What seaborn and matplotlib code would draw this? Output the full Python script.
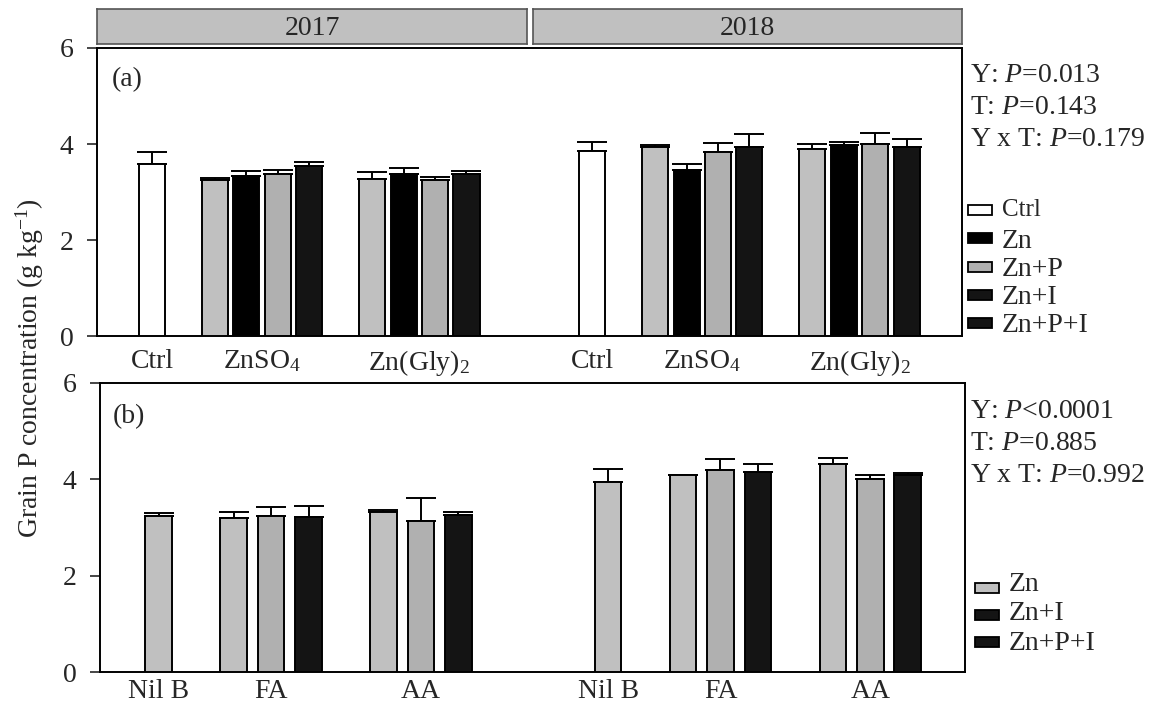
#!/usr/bin/env python3
"""
Grain P concentration bar chart, two panels (2017 / 2018)
"""
import numpy as np
import pandas as pd
import matplotlib
matplotlib.use('Agg')
import matplotlib.pyplot as plt
from matplotlib.patches import Rectangle
import seaborn as sns

# ---- data -------------------------------------------------------------
years = ['2017', '2018']

# panel (a)
a_groups = ['ZnSO4', 'Zn(Gly)2']
a_tick_labels = ['Ctrl', 'ZnSO$_\\mathrm{4}$', 'Zn(Gly)$_\\mathrm{2}$']
a_treat = ['Zn', 'Zn+P', 'Zn+I', 'Zn+P+I']
a_ctrl_mean = [3.59, 3.86]
a_ctrl_se = [0.25, 0.18]
# rows: group, columns: treatment
a_mean_2017 = [[3.24, 3.34, 3.37, 3.54], [3.27, 3.38, 3.26, 3.38]]
a_se_2017 = [[0.06, 0.09, 0.08, 0.09], [0.15, 0.12, 0.06, 0.06]]
a_mean_2018 = [[3.94, 3.46, 3.83, 3.93], [3.89, 3.98, 4.00, 3.93]]
a_se_2018 = [[0.04, 0.13, 0.20, 0.28], [0.10, 0.07, 0.23, 0.18]]
a_stats = ['Y: $\\mathit{P}$=0.013', 'T: $\\mathit{P}$=0.143', 'Y x T: $\\mathit{P}$=0.179']
a_legend = ['Ctrl', 'Zn', 'Zn+P', 'Zn+I', 'Zn+P+I']

# panel (b)
b_tick_labels = ['Nil B', 'FA', 'AA']
b_treat = ['Zn', 'Zn+I', 'Zn+P+I']
b_nil_mean = [3.245, 3.95]
b_nil_se = [0.06, 0.27]
b_mean_2017 = [[3.19, 3.245, 3.22], [3.33, 3.14, 3.25]]
b_se_2017 = [[0.13, 0.19, 0.23], [0.03, 0.47, 0.07]]
b_mean_2018 = [[4.08, 4.20, 4.16], [4.31, 4.01, 4.10]]
b_se_2018 = [[0.02, 0.22, 0.16], [0.14, 0.07, 0.03]]
b_stats = ['Y: $\\mathit{P}$<0.0001', 'T: $\\mathit{P}$=0.885', 'Y x T: $\\mathit{P}$=0.992']
b_legend = ['Zn', 'Zn+I', 'Zn+P+I']

# ---- style ------------------------------------------------------------
sns.set_theme(style='ticks')
plt.rcParams['font.family'] = ['Liberation Serif', 'DejaVu Serif']
plt.rcParams['mathtext.fontset'] = 'custom'
plt.rcParams['mathtext.rm'] = 'Liberation Serif'
plt.rcParams['mathtext.it'] = 'Liberation Serif:italic'

LIGHT = '#c0c0c0'
MID = '#b0b0b0'
BLACK = '#000000'
DARK = '#141414'
FS = 20


def build_a():
    rows = []
    for yi, (means, ses) in enumerate([(a_mean_2017, a_se_2017), (a_mean_2018, a_se_2018)]):
        off = 14 * yi
        rows.append(dict(pos=off, mean=a_ctrl_mean[yi], se=a_ctrl_se[yi], bar='Ctrl'))
        for gi in range(len(a_groups)):
            for ti, t in enumerate(a_treat):
                rows.append(dict(pos=off + 2 + 5 * gi + ti, mean=means[gi][ti],
                                 se=ses[gi][ti], bar=t))
    return pd.DataFrame(rows)


def build_b():
    rows = []
    for yi, (means, ses) in enumerate([(b_mean_2017, b_se_2017), (b_mean_2018, b_se_2018)]):
        off = 12 * yi
        rows.append(dict(pos=off, mean=b_nil_mean[yi], se=b_nil_se[yi], bar='Nil'))
        for gi in range(2):
            for ti, t in enumerate(b_treat):
                rows.append(dict(pos=off + 2 + 4 * gi + ti, mean=means[gi][ti],
                                 se=ses[gi][ti], bar=t))
    return pd.DataFrame(rows)


def draw_panel(ax, df, palette, width, xlim, ticks, labels, xpad):
    sns.barplot(data=df, x='pos', y='mean', hue='bar', palette=palette,
                native_scale=True, width=width, errorbar=None, legend=False,
                edgecolor='black', linewidth=1.4, ax=ax, zorder=3)
    ax.errorbar(df['pos'], df['mean'], yerr=[np.zeros(len(df)), df['se']],
                fmt='none', ecolor='black', elinewidth=1.4, capsize=10.5,
                capthick=1.4, zorder=2)
    ax.set_xlim(*xlim)
    ax.set_ylim(0, 6)
    ax.set_yticks([0, 2, 4, 6])
    ax.set_xticks(ticks)
    ax.set_xticklabels(labels)
    ax.set_xlabel('')
    ax.set_ylabel('')
    ax.tick_params(axis='x', length=0, pad=xpad, labelsize=FS)
    ax.tick_params(axis='y', length=7, width=1.2, pad=10, labelsize=FS, direction='out')
    for s in ax.spines.values():
        s.set_visible(True)
        s.set_linewidth(1.4)
        s.set_color('black')


fig = plt.figure(figsize=(11.61, 7.07), dpi=100)
W, H = 1161, 707


def fig_axes(x0, y0, x1, y1):
    return fig.add_axes([x0 / W, 1 - y1 / H, (x1 - x0) / W, (y1 - y0) / H])


def draw_legend(labels, colors, x_box, box_centres, baselines, sizes):
    for lab, col, yc, yb, fs in zip(labels, colors, box_centres, baselines, sizes):
        fig.patches.append(Rectangle((x_box / W, 1 - (yc + 5) / H), 24 / W, 10 / H,
                                     facecolor=col, edgecolor='black', linewidth=1.3,
                                     transform=fig.transFigure, figure=fig))
        fig.text((x_box + 34) / W, 1 - yb / H, lab, ha='left', va='baseline', fontsize=fs)


# strip headers
for (x0, x1), yr in zip([(97, 527), (533, 962)], years):
    sax = fig_axes(x0, 9, x1, 44)
    sax.set_facecolor(LIGHT)
    sax.set_xticks([])
    sax.set_yticks([])
    for s in sax.spines.values():
        s.set_color('#555555')
        s.set_linewidth(1.2)
    sax.text(0.5, 0.45, yr, ha='center', va='center', fontsize=FS, transform=sax.transAxes)

# panel (a)
ax_a = fig_axes(97, 48, 962, 336)
df_a = build_a()
pal_a = {'Ctrl': 'white', 'Zn': LIGHT, 'Zn+P': BLACK, 'Zn+I': MID, 'Zn+P+I': DARK}
draw_panel(ax_a, df_a, pal_a, 0.83, (-1.75, 25.76),
           [0, 3.5, 8.5, 14, 17.5, 22.5], a_tick_labels * 2, 9)
ax_a.text(0.017, 0.89, '(a)', transform=ax_a.transAxes, fontsize=FS, va='center')

# panel (b)
ax_b = fig_axes(100, 383, 965, 672)
df_b = build_b()
pal_b = {'Nil': LIGHT, 'Zn': LIGHT, 'Zn+I': MID, 'Zn+P+I': DARK}
draw_panel(ax_b, df_b, pal_b, 0.71, (-1.57, 21.53),
           [0, 3, 7, 12, 15, 19], b_tick_labels * 2, 5)
ax_b.text(0.015, 0.885, '(b)', transform=ax_b.transAxes, fontsize=FS, va='center')

# shared y label
fig.text(30 / W, 1 - 368 / H, 'Grain P concentration (g kg$^{\\mathrm{-1}}$)',
         rotation=90, ha='center', va='center', fontsize=FS)

# stats text
for yc, s in zip([75, 107, 139], a_stats):
    fig.text(970 / W, 1 - yc / H, s, ha='left', va='center', fontsize=FS)
for yc, s in zip([411, 443, 475], b_stats):
    fig.text(970 / W, 1 - yc / H, s, ha='left', va='center', fontsize=FS)

# legends (drawn by hand to match spacing)
draw_legend(a_legend, ['white', BLACK, MID, DARK, DARK], 968,
            [210, 238, 267, 295, 323], [216, 248, 276, 304, 332],
            [18, FS, FS, FS, FS])
draw_legend(b_legend, [LIGHT, DARK, DARK], 975,
            [588, 615, 642], [591, 620, 650], [FS, FS, FS])

fig.savefig('out.png', dpi=100)
plt.close(fig)
